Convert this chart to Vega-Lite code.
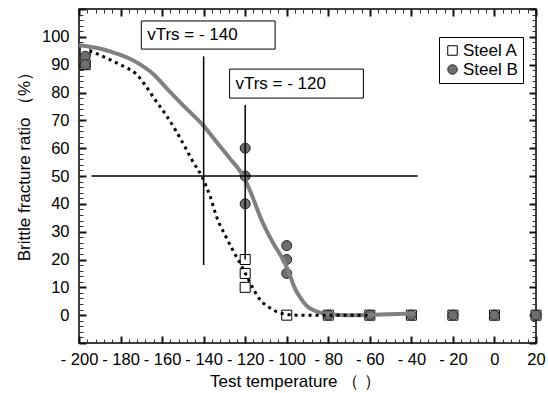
{
  "$schema": "https://vega.github.io/schema/vega-lite/v6.json",
  "width": 457,
  "height": 334,
  "autosize": "none",
  "padding": {"left": 79, "top": 9, "right": 12, "bottom": 50},
  "config": {
    "view": {"stroke": "black", "strokeWidth": 1.5},
    "axis": {"grid": false, "domain": false, "labelColor": "black", "labelFontSize": 16.5, "tickWidth": 2, "labelOverlap": false, "labelFlush": false, "titleFontSize": 17, "titleFontWeight": "normal", "titleColor": "black", "labelFont": "Liberation Sans", "titleFont": "Liberation Sans"},
    "legend": {"orient": "none", "legendX": 360, "legendY": 28, "strokeColor": "black", "fillColor": "white", "padding": 5, "labelFontSize": 17, "labelFont": "Liberation Sans", "labelColor": "black", "symbolSize": 90, "symbolStrokeWidth": 1, "rowPadding": 1, "labelOffset": 2}
  },
  "datasets": {
    "points": [
      {"T": -197, "v": 95, "steel": "Steel A"},
      {"T": -197, "v": 90, "steel": "Steel A"},
      {"T": -120, "v": 20, "steel": "Steel A"},
      {"T": -120, "v": 15, "steel": "Steel A"},
      {"T": -120, "v": 10, "steel": "Steel A"},
      {"T": -100, "v": 0, "steel": "Steel A"},
      {"T": -80, "v": 0, "steel": "Steel A"},
      {"T": -60, "v": 0, "steel": "Steel A"},
      {"T": -40, "v": 0, "steel": "Steel A"},
      {"T": -20, "v": 0, "steel": "Steel A"},
      {"T": 0, "v": 0, "steel": "Steel A"},
      {"T": 20, "v": 0, "steel": "Steel A"},
      {"T": -197, "v": 93, "steel": "Steel B"},
      {"T": -197, "v": 90, "steel": "Steel B"},
      {"T": -120, "v": 60, "steel": "Steel B"},
      {"T": -120, "v": 50, "steel": "Steel B"},
      {"T": -120, "v": 40, "steel": "Steel B"},
      {"T": -100, "v": 25, "steel": "Steel B"},
      {"T": -100, "v": 20, "steel": "Steel B"},
      {"T": -100, "v": 15, "steel": "Steel B"},
      {"T": -80, "v": 0, "steel": "Steel B"},
      {"T": -60, "v": 0, "steel": "Steel B"},
      {"T": -40, "v": 0, "steel": "Steel B"},
      {"T": -20, "v": 0, "steel": "Steel B"},
      {"T": 0, "v": 0, "steel": "Steel B"},
      {"T": 20, "v": 0, "steel": "Steel B"}
    ],
    "curves": [
      {"T": -195, "v": 95, "steel": "Steel A"},
      {"T": -190, "v": 93.5, "steel": "Steel A"},
      {"T": -184, "v": 91.4, "steel": "Steel A"},
      {"T": -178, "v": 89.2, "steel": "Steel A"},
      {"T": -172.5, "v": 86.7, "steel": "Steel A"},
      {"T": -168, "v": 82.5, "steel": "Steel A"},
      {"T": -163, "v": 77, "steel": "Steel A"},
      {"T": -158, "v": 71.8, "steel": "Steel A"},
      {"T": -153.4, "v": 66.3, "steel": "Steel A"},
      {"T": -149, "v": 60.5, "steel": "Steel A"},
      {"T": -145.5, "v": 55.6, "steel": "Steel A"},
      {"T": -141, "v": 50, "steel": "Steel A"},
      {"T": -137, "v": 43, "steel": "Steel A"},
      {"T": -133.6, "v": 35, "steel": "Steel A"},
      {"T": -129.5, "v": 28.5, "steel": "Steel A"},
      {"T": -125.7, "v": 23, "steel": "Steel A"},
      {"T": -122, "v": 18, "steel": "Steel A"},
      {"T": -119, "v": 13.7, "steel": "Steel A"},
      {"T": -116, "v": 9.3, "steel": "Steel A"},
      {"T": -112.7, "v": 5.4, "steel": "Steel A"},
      {"T": -108, "v": 2.6, "steel": "Steel A"},
      {"T": -103, "v": 0.7, "steel": "Steel A"},
      {"T": -95, "v": 0, "steel": "Steel A"},
      {"T": -80, "v": 0, "steel": "Steel A"},
      {"T": -60, "v": 0, "steel": "Steel A"},
      {"T": -200, "v": 97, "steel": "Steel B"},
      {"T": -190, "v": 95.8, "steel": "Steel B"},
      {"T": -184, "v": 94.5, "steel": "Steel B"},
      {"T": -176, "v": 92.3, "steel": "Steel B"},
      {"T": -171, "v": 90.3, "steel": "Steel B"},
      {"T": -164, "v": 86.5, "steel": "Steel B"},
      {"T": -158, "v": 81.7, "steel": "Steel B"},
      {"T": -150, "v": 75.5, "steel": "Steel B"},
      {"T": -140, "v": 68, "steel": "Steel B"},
      {"T": -133, "v": 61.5, "steel": "Steel B"},
      {"T": -127.7, "v": 56.6, "steel": "Steel B"},
      {"T": -121, "v": 50, "steel": "Steel B"},
      {"T": -117, "v": 43.5, "steel": "Steel B"},
      {"T": -112.7, "v": 35.2, "steel": "Steel B"},
      {"T": -107, "v": 26.5, "steel": "Steel B"},
      {"T": -101.6, "v": 19.7, "steel": "Steel B"},
      {"T": -99, "v": 15.5, "steel": "Steel B"},
      {"T": -96.3, "v": 10, "steel": "Steel B"},
      {"T": -93, "v": 5.8, "steel": "Steel B"},
      {"T": -89.9, "v": 3, "steel": "Steel B"},
      {"T": -86, "v": 1.5, "steel": "Steel B"},
      {"T": -83.4, "v": 0.8, "steel": "Steel B"},
      {"T": -78, "v": 0.2, "steel": "Steel B"},
      {"T": -70, "v": 0, "steel": "Steel B"},
      {"T": -55, "v": 0.2, "steel": "Steel B"},
      {"T": -38, "v": 0.6, "steel": "Steel B"}
    ],
    "rules": [
      {"T": -140, "T2": -140, "v": 18, "v2": 93},
      {"T": -120, "T2": -120, "v": 20, "v2": 75.5},
      {"T": -194, "T2": -37, "v": 50, "v2": 50}
    ],
    "boxes": [
      {"T": -170, "T2": -105.6, "v": 95.6, "v2": 105.7, "label": "vTrs = - 140", "tx": -167.2, "ty": 100.7},
      {"T": -127.5, "T2": -63.1, "v": 78, "v2": 88.4, "label": "vTrs = - 120", "tx": -124.7, "ty": 83.2}
    ]
  },
  "layer": [
    {
      "data": {"name": "points"},
      "mark": {"type": "point", "filled": true, "strokeWidth": 1, "size": 100, "opacity": 1},
      "encoding": {
        "x": {"field": "T", "type": "quantitative", "scale": {"domain": [-200, 20], "nice": false, "zero": false},
          "axis": {"orient": "bottom", "values": [-200, -180, -160, -140, -120, -100, -80, -60, -40, -20, 0, 20], "ticks": false, "labelPadding": 8, "labelExpr": "datum.value < 0 ? '- ' + abs(datum.value) : '' + datum.value", "title": "Test temperature  （    ）", "titleX": 216, "titlePadding": 6}},
        "y": {"field": "v", "type": "quantitative", "scale": {"domain": [-10, 110], "nice": false, "zero": false},
          "axis": {"orient": "left", "values": [0, 10, 20, 30, 40, 50, 60, 70, 80, 90, 100], "ticks": false, "labelPadding": 10, "title": "Brittle fracture ratio  （%）", "titleY": 153, "titlePadding": 8}},
        "shape": {"field": "steel", "type": "nominal", "scale": {"domain": ["Steel A", "Steel B"], "range": ["square", "circle"]}, "legend": {"title": null}},
        "fill": {"field": "steel", "type": "nominal", "scale": {"domain": ["Steel A", "Steel B"], "range": ["white", "#6e6e6e"]}, "legend": {"title": null}},
        "stroke": {"field": "steel", "type": "nominal", "scale": {"domain": ["Steel A", "Steel B"], "range": ["black", "#222222"]}, "legend": {"title": null}}
      }
    },
    {
      "data": {"name": "points"},
      "mark": {"type": "point", "opacity": 0},
      "encoding": {
        "x": {"field": "T", "type": "quantitative", "scale": {"domain": [-200, 20], "nice": false, "zero": false},
          "axis": {"orient": "top", "offset": -334, "values": [-200, -180, -160, -140, -120, -100, -80, -60, -40, -20, 0, 20], "tickSize": 7, "tickColor": "#111111", "labels": false, "title": null}},
        "y": {"field": "v", "type": "quantitative", "scale": {"domain": [-10, 110], "nice": false, "zero": false},
          "axis": {"orient": "right", "offset": -457, "values": [-10, 0, 10, 20, 30, 40, 50, 60, 70, 80, 90, 100, 110], "tickSize": 7, "tickColor": "#111111", "labels": false, "title": null}}
      }
    },
    {
      "data": {"name": "points"},
      "mark": {"type": "point", "opacity": 0},
      "encoding": {
        "x": {"field": "T", "type": "quantitative", "scale": {"domain": [-200, 20], "nice": false, "zero": false},
          "axis": {"orient": "bottom", "offset": -334, "values": [-200, -180, -160, -140, -120, -100, -80, -60, -40, -20, 0, 20], "tickSize": 7, "tickColor": "#111111", "labels": false, "title": null}},
        "y": {"field": "v", "type": "quantitative", "scale": {"domain": [-10, 110], "nice": false, "zero": false},
          "axis": {"orient": "left", "offset": -457, "values": [-10, 0, 10, 20, 30, 40, 50, 60, 70, 80, 90, 100, 110], "tickSize": 7, "tickColor": "#111111", "labels": false, "title": null}}
      }
    },
    {
      "data": {"name": "points"},
      "mark": {"type": "point", "opacity": 0},
      "encoding": {
        "x": {"field": "T", "type": "quantitative", "scale": {"domain": [-200, 20], "nice": false, "zero": false},
          "axis": {"orient": "top", "offset": -334, "values": [-196, -192, -188, -184, -176, -172, -168, -164, -156, -152, -148, -144, -136, -132, -128, -124, -116, -112, -108, -104, -96, -92, -88, -84, -76, -72, -68, -64, -56, -52, -48, -44, -36, -32, -28, -24, -16, -12, -8, -4, 4, 8, 12, 16], "tickSize": 4, "tickWidth": 1, "tickColor": "#333333", "labels": false, "title": null}},
        "y": {"field": "v", "type": "quantitative", "scale": {"domain": [-10, 110], "nice": false, "zero": false},
          "axis": {"orient": "right", "offset": -457, "values": [-8, -6, -4, -2, 2, 4, 6, 8, 12, 14, 16, 18, 22, 24, 26, 28, 32, 34, 36, 38, 42, 44, 46, 48, 52, 54, 56, 58, 62, 64, 66, 68, 72, 74, 76, 78, 82, 84, 86, 88, 92, 94, 96, 98, 102, 104, 106, 108], "tickSize": 4, "tickWidth": 1, "tickColor": "#333333", "labels": false, "title": null}}
      }
    },
    {
      "data": {"name": "points"},
      "mark": {"type": "point", "opacity": 0},
      "encoding": {
        "x": {"field": "T", "type": "quantitative", "scale": {"domain": [-200, 20], "nice": false, "zero": false},
          "axis": {"orient": "bottom", "offset": -334, "values": [-196, -192, -188, -184, -176, -172, -168, -164, -156, -152, -148, -144, -136, -132, -128, -124, -116, -112, -108, -104, -96, -92, -88, -84, -76, -72, -68, -64, -56, -52, -48, -44, -36, -32, -28, -24, -16, -12, -8, -4, 4, 8, 12, 16], "tickSize": 4, "tickWidth": 1, "tickColor": "#333333", "labels": false, "title": null}},
        "y": {"field": "v", "type": "quantitative", "scale": {"domain": [-10, 110], "nice": false, "zero": false},
          "axis": {"orient": "left", "offset": -457, "values": [-8, -6, -4, -2, 2, 4, 6, 8, 12, 14, 16, 18, 22, 24, 26, 28, 32, 34, 36, 38, 42, 44, 46, 48, 52, 54, 56, 58, 62, 64, 66, 68, 72, 74, 76, 78, 82, 84, 86, 88, 92, 94, 96, 98, 102, 104, 106, 108], "tickSize": 4, "tickWidth": 1, "tickColor": "#333333", "labels": false, "title": null}}
      }
    },
    {
      "data": {"name": "curves"},
      "transform": [{"filter": "datum.steel == 'Steel B'"}],
      "mark": {"type": "line", "color": "#808080", "strokeWidth": 4, "interpolate": "monotone"},
      "encoding": {
        "x": {"field": "T", "type": "quantitative", "axis": null},
        "y": {"field": "v", "type": "quantitative", "axis": null}
      }
    },
    {
      "data": {"name": "curves"},
      "transform": [{"filter": "datum.steel == 'Steel A'"}],
      "mark": {"type": "line", "color": "black", "strokeWidth": 3, "strokeDash": [3, 4], "interpolate": "monotone"},
      "encoding": {
        "x": {"field": "T", "type": "quantitative", "axis": null},
        "y": {"field": "v", "type": "quantitative", "axis": null}
      }
    },
    {
      "data": {"name": "rules"},
      "mark": {"type": "rule", "color": "black", "strokeWidth": 1.5},
      "encoding": {
        "x": {"field": "T", "type": "quantitative", "axis": null},
        "x2": {"field": "T2"},
        "y": {"field": "v", "type": "quantitative", "axis": null},
        "y2": {"field": "v2"}
      }
    },
    {
      "data": {"name": "boxes"},
      "mark": {"type": "rect", "fill": "white", "stroke": "black", "strokeWidth": 1},
      "encoding": {
        "x": {"field": "T", "type": "quantitative", "axis": null},
        "x2": {"field": "T2"},
        "y": {"field": "v", "type": "quantitative", "axis": null},
        "y2": {"field": "v2"}
      }
    },
    {
      "data": {"name": "boxes"},
      "mark": {"type": "text", "align": "left", "baseline": "middle", "fontSize": 17, "font": "Liberation Sans", "color": "black"},
      "encoding": {
        "x": {"field": "tx", "type": "quantitative", "axis": null},
        "y": {"field": "ty", "type": "quantitative", "axis": null},
        "text": {"field": "label", "type": "nominal"}
      }
    }
  ],
  "resolve": {"axis": {"x": "independent", "y": "independent"}}
}
